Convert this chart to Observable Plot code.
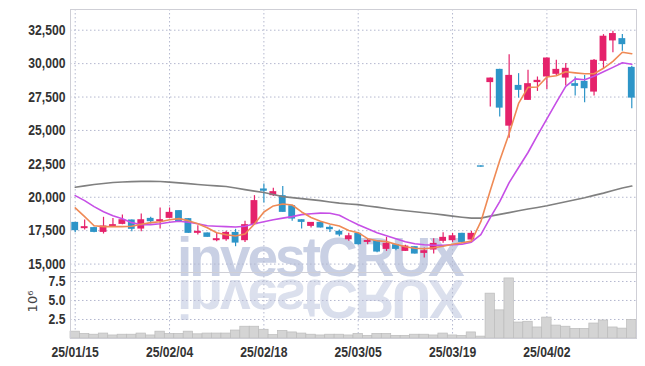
<!DOCTYPE html>
<html><head><meta charset="utf-8">
<script src="https://cdn.jsdelivr.net/npm/d3@7"></script>
<script src="https://cdn.jsdelivr.net/npm/@observablehq/plot@0.6"></script>
<style>
body{margin:0;background:#fff;}
#wrap{position:relative;width:645px;height:366px;overflow:hidden;}
#wrap svg{position:absolute;left:0;}
.wm{position:absolute;left:177px;top:236px;height:42px;font:bold 55px "Liberation Sans",Arial,sans-serif;line-height:42px;letter-spacing:-3px;white-space:nowrap;color:#c9d0e4;
  -webkit-box-reflect: below 0px linear-gradient(rgba(0,0,0,0.72), rgba(0,0,0,0.62));}
</style></head><body><div id="wrap"></div>
<script>
const dates = ["25/01/15","25/01/16","25/01/17","25/01/20","25/01/21","25/01/22","25/01/23","25/01/24","25/01/31","25/02/03",
"25/02/04","25/02/05","25/02/06","25/02/07","25/02/10","25/02/11","25/02/12","25/02/13","25/02/14","25/02/17",
"25/02/18","25/02/19","25/02/20","25/02/21","25/02/24","25/02/25","25/02/26","25/02/27","25/02/28","25/03/04",
"25/03/05","25/03/06","25/03/07","25/03/10","25/03/11","25/03/12","25/03/13","25/03/14","25/03/17","25/03/18",
"25/03/19","25/03/20","25/03/21","25/03/24","25/03/25","25/03/26","25/03/27","25/03/28","25/03/31","25/04/01",
"25/04/02","25/04/03","25/04/04","25/04/07","25/04/08","25/04/09","25/04/10","25/04/11","25/04/14","25/04/15"];
const xTickLabels = ["25/01/15","25/02/04","25/02/18","25/03/05","25/03/19","25/04/02"];
const priceTicks = [15000,17500,20000,22500,25000,27500,30000,32500];
const volTicks = [2.5,5,7.5];

const open = [18120,17650,17730,17370,17780,17970,18300,17620,18420,18170,
18420,19000,18400,17300,17330,16750,16820,17370,16750,17950,
20620,20120,20120,19370,18320,17820,18120,17750,17450,16820,
17300,16620,16750,16100,16450,15950,16300,15800,16050,16700,
16750,17300,16800,22350,28580,29570,25320,28370,27250,28580,
29000,29200,28920,28500,28670,27870,30170,31700,31870,29720];
const close = [17500,17800,17370,17850,17950,18320,17600,18320,18170,18320,
18870,18120,17300,17450,17000,16900,17370,16570,17950,19750,
20450,20420,18870,18370,18120,18120,17700,17570,17170,17120,
16450,16770,15900,16550,16100,16350,15750,16000,16550,17000,
17120,16620,17300,22250,28920,26670,29120,28000,28500,28750,
30420,29570,29650,28300,28120,30250,32050,32250,31420,27420];
const high = [18120,18300,17750,18500,18420,18680,18300,18750,18500,19200,
19200,19000,18400,17870,17330,17350,17450,17600,18200,20120,
21000,20670,20800,19370,18320,18120,18120,17870,17550,17300,
17300,16900,16750,17000,16450,16400,16300,16200,16900,17350,
17300,17300,17450,22350,28920,29570,30670,29250,29500,29000,
30420,30250,30000,29000,29120,30300,32170,32420,32170,29800];
const low = [17350,17550,17350,17250,17750,17950,17420,17420,18000,17620,
18400,18120,17300,17170,17000,16670,16700,16300,16620,17950,
19570,20050,18870,18200,17620,17700,17700,17370,17050,16700,
16400,16450,15850,15950,16000,15950,15750,15450,15750,16550,
16620,16620,16620,22250,26750,26000,24420,27420,27250,27920,
28070,29100,28320,27570,27070,27570,29620,30820,30920,26620];
const ma5 = [19200,18550,17870,17800,17800,17800,17830,17980,18100,18170,
18320,18400,18250,18020,17720,17350,17200,17100,17250,18000,
18900,19350,19500,19420,18900,18490,18200,18000,17850,17510,
17350,16900,16750,16680,16490,16300,16190,16150,16220,16330,
16490,16600,16720,18170,20500,22750,24770,27020,28220,28250,
29000,29090,29390,29310,29240,29240,29650,30170,30850,30740];
const ma20 = [20120,19750,19300,18920,18620,18400,18100,17950,17950,18020,
18130,18200,18130,18020,17870,17830,17800,17770,17830,18020,
18170,18320,18440,18550,18700,18770,18810,18800,18660,18290,
17950,17650,17350,17120,16900,16670,16520,16450,16410,16410,
16450,16490,16640,17200,18480,19680,21100,22230,23350,24630,
25870,27100,28300,28860,28790,29050,29390,29720,30060,29950];
const ma120 = [20750,20850,20950,21030,21100,21140,21170,21190,21200,21180,
21130,21080,21020,20960,20900,20850,20800,20690,20570,20460,
20350,20200,20050,19970,19900,19820,19750,19650,19560,19500,
19450,19350,19260,19160,19070,18990,18920,18840,18770,18680,
18590,18510,18440,18440,18590,18720,18850,18990,19120,19240,
19370,19520,19670,19820,19970,20140,20310,20500,20690,20840];
const volume = [0.9,0.6,0.5,0.65,0.4,0.5,0.5,0.65,0.4,0.9,
0.6,0.6,0.9,0.55,0.65,0.65,0.65,1.05,1.55,1.55,
1.15,0.45,1.0,0.8,0.65,0.5,0.4,0.5,0.5,0.4,
0.6,0.35,0.6,0.6,0.35,0.35,0.5,0.5,0.4,0.65,
0.4,0.35,0.8,0.25,5.9,3.7,7.9,2.1,2.2,1.45,
2.75,1.7,1.55,1.27,1.27,1.97,2.37,1.45,1.3,2.45];

const UP = "#e5226b", DOWN = "#2d95c8";
const rows = dates.map((d, i) => ({date: d, open: open[i], close: close[i], high: high[i], low: low[i],
  ma5: ma5[i], ma20: ma20[i], ma120: ma120[i], vol: volume[i]}));
const col = d => d.close > d.open ? UP : DOWN;

const wrap = document.getElementById("wrap");
// watermark (real text) behind the charts, its mirror image drawn by CSS reflection
const wm = document.createElement("div");
wm.className = "wm"; wm.textContent = "investCRUX";
wrap.appendChild(wm);

const FONT = '"Liberation Sans",Arial,sans-serif';
const gridStyle = {stroke: "#b4b8cf", strokeOpacity: 1, strokeDasharray: "1.5,2.5", strokeWidth: 1};

const price = Plot.plot({
  width: 645, height: 272,
  marginLeft: 70, marginRight: 9, marginTop: 9, marginBottom: 0,
  style: {background: "transparent", fontFamily: FONT, fontSize: "15px", fontWeight: "bold", color: "#333", overflow: "visible"},
  x: {type: "band", domain: dates, padding: 0, round: false, axis: null},
  y: {domain: [14370, 34050], axis: null},
  marks: [
    Plot.gridY(priceTicks, gridStyle),
    Plot.gridX(xTickLabels, gridStyle),
    Plot.text(priceTicks, {y: d => d, text: d3.format(","), frameAnchor: "left", dx: -5, textAnchor: "end",
      fill: "#333", fontWeight: "bold", fontSize: 15}),
    Plot.frame({stroke: "#cfcfd6"}),
    Plot.ruleX(rows, {x: "date", y1: "low", y2: "high", stroke: col, strokeWidth: 1.2}),
    Plot.barY(rows, {x: "date", y1: "open", y2: "close", fill: col, insetLeft: 1.3, insetRight: 1.3}),
    Plot.lineY(rows, {x: "date", y: "ma120", stroke: "#808080", strokeWidth: 1.6}),
    Plot.lineY(rows, {x: "date", y: "ma20", stroke: "#c64fe6", strokeWidth: 1.6}),
    Plot.lineY(rows, {x: "date", y: "ma5", stroke: "#ef8a55", strokeWidth: 1.6})
  ]
});
price.style.top = "0px";
wrap.appendChild(price);

const vol = Plot.plot({
  width: 645, height: 94,
  marginLeft: 70, marginRight: 9, marginTop: 0, marginBottom: 28,
  style: {background: "transparent", fontFamily: FONT, fontSize: "15px", fontWeight: "bold", color: "#333", overflow: "visible"},
  x: {type: "band", domain: dates, padding: 0, round: false, axis: null},
  y: {domain: [0, 8.68], axis: null},
  marks: [
    Plot.gridY(volTicks, gridStyle),
    Plot.gridX(xTickLabels, gridStyle),
    Plot.barY(rows, {x: "date", y: "vol", fill: "#d4d4d4", stroke: "#bcbcbc", strokeWidth: 0.7}),
    Plot.text(volTicks, {y: d => d, text: d3.format(".1f"), frameAnchor: "left", dx: -5, textAnchor: "end",
      fill: "#333", fontWeight: "bold", fontSize: 15}),
    Plot.text(xTickLabels, {x: d => d, text: d => d, frameAnchor: "bottom", dy: 14, lineAnchor: "middle",
      fill: "#333", fontWeight: "bold", fontSize: 15}),
    Plot.frame({stroke: "#cfcfd6"}),
    Plot.text(["10⁶"], {frameAnchor: "left", dx: -38, dy: -4, rotate: -90, textAnchor: "middle", text: d => d,
      fontWeight: "normal", fontSize: 13, fontFamily: "DejaVu Sans, sans-serif", fill: "#444"})
  ]
});
vol.style.top = "272px";
wrap.appendChild(vol);

// condense the bold tick labels to match the narrow face of the original
for (const svg of [price, vol]) {
  svg.querySelectorAll("text").forEach(t => {
    if (t.textContent === "10⁶") return;
    const L = t.getComputedTextLength();
    t.setAttribute("textLength", (L * 0.81).toFixed(1));
    t.setAttribute("lengthAdjust", "spacingAndGlyphs");
  });
}
</script>
</body></html>
